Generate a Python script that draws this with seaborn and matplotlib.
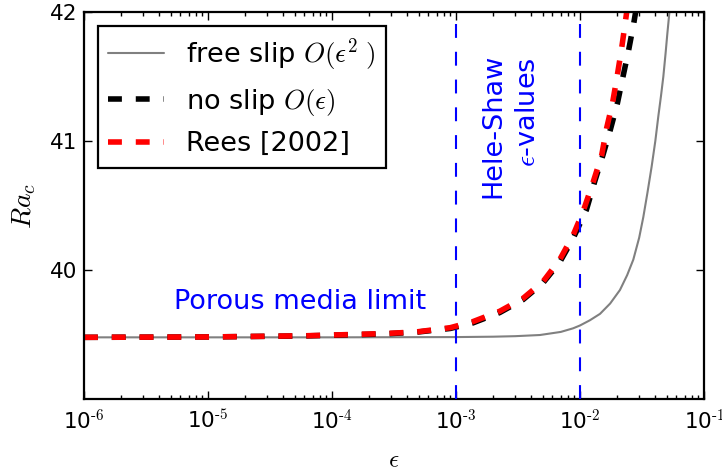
import matplotlib
matplotlib.use("Agg")
import matplotlib.pyplot as plt
import seaborn as sns
from matplotlib.ticker import LogLocator, NullFormatter

# Critical Rayleigh number versus aspect ratio epsilon
eps_free = [1e-6, 1e-5, 1e-4, 1e-3, 2e-3, 3e-3, 4.75e-3, 7e-3, 8.8e-3, 1e-2,
            1.2e-2, 1.45e-2, 1.75e-2, 2.1e-2, 2.4e-2, 2.69e-2, 3.0e-2, 3.24e-2,
            3.5e-2, 3.78e-2, 4.05e-2, 4.28e-2, 4.5e-2, 4.7e-2, 4.9e-2, 5.06e-2,
            5.25e-2, 5.5e-2]
ra_free = [39.478, 39.478, 39.478, 39.480, 39.483, 39.487, 39.496, 39.52, 39.548,
           39.57, 39.61, 39.66, 39.74, 39.845, 39.96, 40.08, 40.25, 40.41, 40.60,
           40.80, 41.0, 41.19, 41.35, 41.50, 41.68, 41.83, 41.99, 42.25]

eps_noslip = [1e-6, 1e-5, 6e-5, 2.6e-4, 4.8e-4, 9e-4, 1.37e-3, 2.25e-3, 3.47e-3,
              5.03e-3, 6.86e-3, 8.8e-3, 1.125e-2, 1.313e-2, 1.53e-2, 1.754e-2,
              2.0e-2, 2.223e-2, 2.468e-2, 2.71e-2, 2.95e-2]
ra_noslip = [39.478, 39.481, 39.489, 39.504, 39.518, 39.547, 39.59, 39.67, 39.77,
             39.90, 40.06, 40.245, 40.465, 40.685, 40.89, 41.085, 41.29, 41.50,
             41.705, 41.91, 42.12]

eps_rees = [1e-6, 1e-5, 6e-5, 2.6e-4, 4.8e-4, 9e-4, 1.37e-3, 2.25e-3, 3.47e-3,
            5.03e-3, 6.86e-3, 8.8e-3, 1.056e-2, 1.28e-2, 1.496e-2, 1.64e-2,
            1.834e-2, 2.0e-2, 2.168e-2, 2.334e-2, 2.5e-2]
ra_rees = [39.478, 39.481, 39.49, 39.507, 39.52, 39.553, 39.60, 39.68, 39.78,
           39.91, 40.08, 40.27, 40.45, 40.685, 40.89, 41.10, 41.30, 41.51, 41.72,
           41.94, 42.15]

hele_shaw_eps = [1e-3, 1e-2]
series_labels = [r"free slip $O(\epsilon^2\;)$", r"no slip $O(\epsilon)$", "Rees [2002]"]
x_tick_exponents = [-6, -5, -4, -3, -2, -1]
y_ticks = [40, 41, 42]

sns.set_style("ticks")
plt.rcParams["font.family"] = ["DejaVu Sans"]
plt.rcParams["mathtext.fontset"] = "cm"
plt.rcParams["lines.scale_dashes"] = False
for key in ["text.color", "axes.labelcolor", "xtick.color", "ytick.color",
            "axes.edgecolor"]:
    plt.rcParams[key] = "black"

W, H = 722, 472
fig = plt.figure(figsize=(W / 100, H / 100), dpi=100)
ax = fig.add_axes([84 / W, 1 - 399 / H, 620 / W, 387 / H])

dash = (0, (10, 10))
sns.lineplot(x=eps_free, y=ra_free, ax=ax, color="#808080", lw=1.5,
             label=series_labels[0], legend=False)
sns.lineplot(x=eps_noslip, y=ra_noslip, ax=ax, color="black", lw=4,
             linestyle=dash, label=series_labels[1], legend=False)
sns.lineplot(x=eps_rees, y=ra_rees, ax=ax, color="red", lw=4,
             linestyle=dash, label=series_labels[2], legend=False)

for e in hele_shaw_eps:
    ax.axvline(e, color="blue", lw=1.5, linestyle=dash, zorder=3)

ax.set_xscale("log")
ax.set_xlim(1e-6, 1e-1)
ax.set_ylim(39, 42)

xticks = [10.0 ** k for k in x_tick_exponents]
xlabels = [r"$\mathregular{10^{\text{%d}}}$" % k for k in x_tick_exponents]
ax.set_xticks(xticks, xlabels)
ax.xaxis.set_minor_locator(LogLocator(base=10, subs=range(2, 10), numticks=20))
ax.xaxis.set_minor_formatter(NullFormatter())
ax.set_yticks(y_ticks, [str(v) for v in y_ticks])

ax.tick_params(which="both", direction="in", top=True, right=True,
               labelsize=15.5, width=1, color="black", labelcolor="black")
ax.tick_params(which="major", length=6)
ax.tick_params(which="minor", length=3)
ax.tick_params(axis="x", which="major", pad=7)
ax.tick_params(axis="y", which="major", pad=5)
for s in ax.spines.values():
    s.set_linewidth(1.6)
    s.set_color("black")

ax.set_xlabel(r"$\epsilon$", fontsize=18, labelpad=11)
ax.set_ylabel(r"$Ra_c$", fontsize=20, labelpad=8)

leg = ax.legend(loc="upper left", fontsize=19.5, handlelength=2.05,
                fancybox=False, framealpha=1, edgecolor="black",
                borderaxespad=0.5)
leg.get_frame().set_linewidth(1.6)
for t in leg.get_texts():
    t.set_color("black")

txt_kw = dict(transform=ax.transAxes, color="blue", fontsize=19.5)
ax.text(0.3484, 0.2326, "Porous media limit", ha="center", va="baseline", **txt_kw)
ax.text(0.671, 0.7054, "Hele-Shaw", rotation=90, rotation_mode="anchor",
        ha="center", va="baseline", **txt_kw)
ax.text(0.727, 0.740, r"$\epsilon$-values", rotation=90, rotation_mode="anchor",
        ha="center", va="baseline", **txt_kw)

fig.savefig("out.png", dpi=100)
